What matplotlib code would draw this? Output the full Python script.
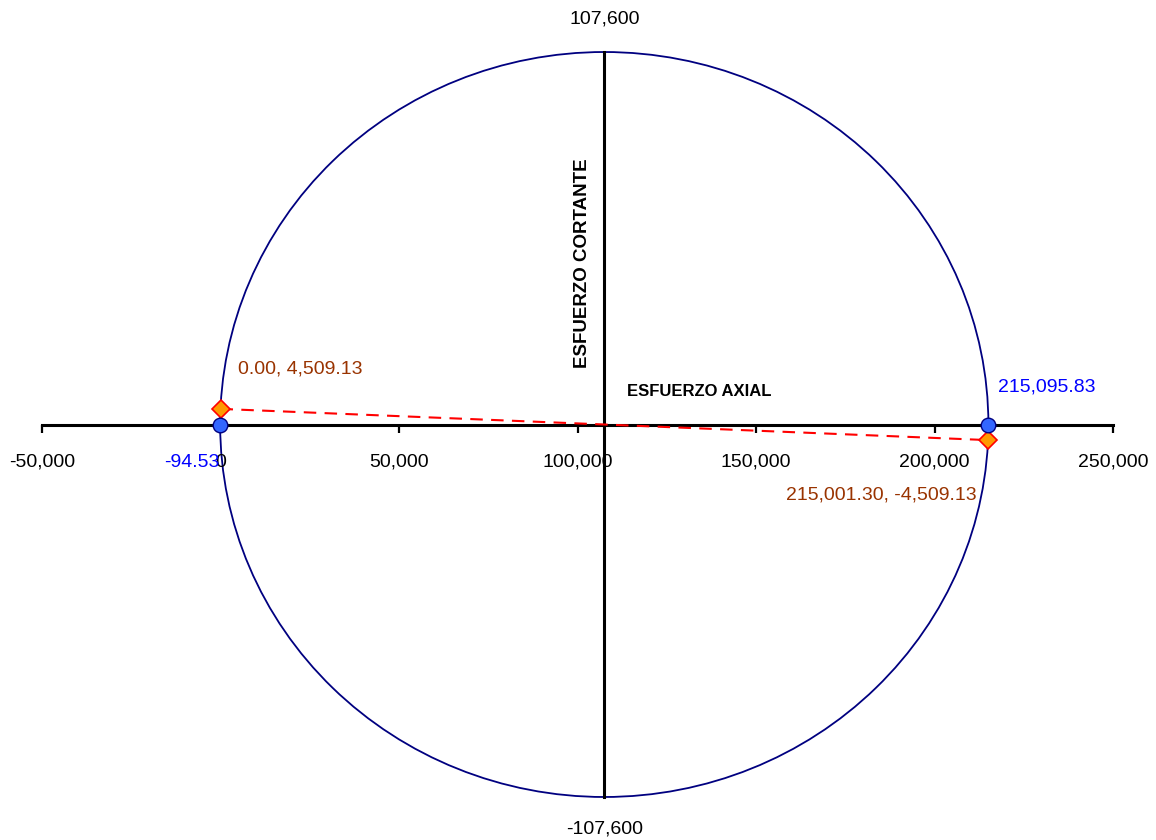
import numpy as np
import matplotlib
matplotlib.use("Agg")
import matplotlib.pyplot as plt
from matplotlib.patches import Circle


# 1. Data (Mohr circle)
sigma_principal = [-94.53, 215095.83]
tau_principal = [0.0, 0.0]
sigma_state = [0.00, 215001.30]
tau_state = [4509.13, -4509.13]
x_ticks = [-50000, 0, 50000, 100000, 150000, 200000, 250000]
x_limits = [-50000, 250000]
y_limits = [-107600, 107600]

principal_labels = ["-94.53", "215,095.83"]
state_labels = ["0.00, 4,509.13", "215,001.30, -4,509.13"]

FONT = "Liberation Sans"
BLUE_TXT = "#0000FF"
BROWN_TXT = "#993300"


# 2. Plot
def plot_mohr(save_path="out.png"):
    fig = plt.figure(figsize=(11.56, 8.40), dpi=100)
    ax = fig.add_axes([42 / 1156, 43 / 840, 1071 / 1156, 745 / 840])

    center = (sigma_state[0] + sigma_state[1]) / 2
    radius = np.hypot(sigma_state[1] - center, tau_state[1])

    ax.add_patch(Circle((center, 0), radius, fill=False, edgecolor="#000080",
                        linewidth=1.3, zorder=1, clip_on=False))

    # line between stress states
    ax.plot(sigma_state, tau_state, color="#FF0000", linestyle=(0, (6, 4)),
            linewidth=1.5, zorder=3)
    ax.plot(sigma_state, tau_state, linestyle="none", marker="D", markersize=9,
            markerfacecolor="#FF9900", markeredgecolor="#FF0000",
            markeredgewidth=1.2, zorder=6, clip_on=False)

    ax.plot(sigma_principal, tau_principal, linestyle="none", marker="o",
            markersize=10.5, markerfacecolor="#3366FF", markeredgecolor="#000080",
            markeredgewidth=1.0, zorder=6, clip_on=False)

    ax.set_xlim(x_limits)
    ax.set_ylim(y_limits)

    # axes crossing in the middle
    for side in ["top", "right"]:
        ax.spines[side].set_visible(False)
    ax.spines["left"].set_position(("data", center))
    ax.spines["bottom"].set_position(("data", 0))
    ax.spines["left"].set_linewidth(2.2)
    ax.spines["bottom"].set_linewidth(2.2)
    ax.spines["left"].set_zorder(2.5)

    ax.set_xticks(x_ticks)
    ax.set_xticklabels([f"{v:,.0f}" for v in x_ticks], fontname=FONT, fontsize=14)
    ax.tick_params(axis="x", direction="out", length=6, width=1.6, pad=15)
    ax.set_yticks([])

    for yv, dy, va in [(y_limits[1], 24, "bottom"), (y_limits[0], -24, "top")]:
        ax.annotate(f"{yv:,.0f}", (center, yv), xytext=(0, dy),
                    textcoords="offset pixels", ha="center", va=va,
                    fontname=FONT, fontsize=14)

    # data labels
    ax.annotate(principal_labels[0], (sigma_principal[0], tau_principal[0]),
                xytext=(-1, -38), textcoords="offset pixels", ha="right",
                va="center", color=BLUE_TXT, fontname=FONT, fontsize=14)
    ax.annotate(principal_labels[1], (sigma_principal[1], tau_principal[1]),
                xytext=(10, 37), textcoords="offset pixels", ha="left",
                va="center", color=BLUE_TXT, fontname=FONT, fontsize=14)
    ax.annotate(state_labels[0], (sigma_state[0], tau_state[0]),
                xytext=(17, 40), textcoords="offset pixels", ha="left",
                va="center", color=BROWN_TXT, fontname=FONT, fontsize=14)
    ax.annotate(state_labels[1], (sigma_state[1], tau_state[1]),
                xytext=(-11, -55), textcoords="offset pixels", ha="right",
                va="center", color=BROWN_TXT, fontname=FONT, fontsize=14)

    # axis titles
    ax.text(0.505, 0.717, "ESFUERZO CORTANTE", transform=ax.transAxes,
            rotation=90, ha="center", va="center", fontname=FONT,
            fontsize=13.5, fontweight="bold")
    ax.text(0.614, 0.544, "ESFUERZO AXIAL", transform=ax.transAxes,
            ha="center", va="center", fontname=FONT, fontsize=12,
            fontweight="bold")

    fig.savefig(save_path, dpi=100)
    plt.close(fig)


def main():
    plot_mohr()


if __name__ == "__main__":
    main()
